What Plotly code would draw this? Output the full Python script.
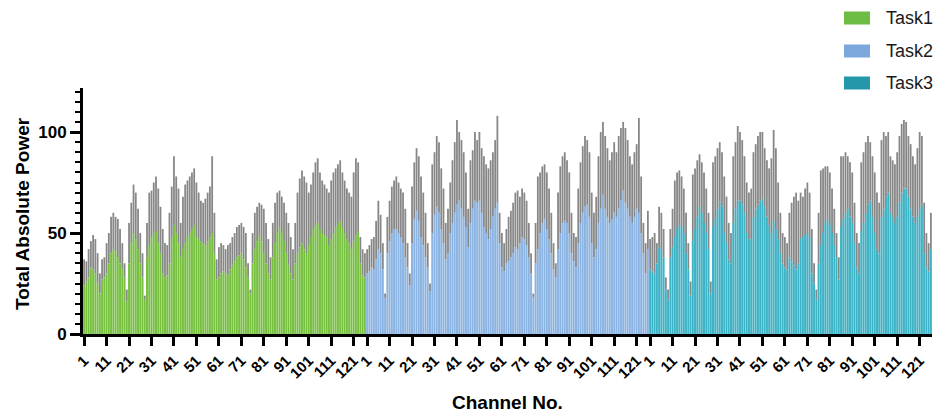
import plotly.graph_objects as go

# ---------------- data ----------------
task_names = ["Task1", "Task2", "Task3"]
n_channels = 126
tick_channels = [1, 11, 21, 31, 41, 51, 61, 71, 81, 91, 101, 111, 121]
tick_labels = ["1", "11", "21", "31", "41", "51", "61", "71", "81", "91", "101", "111", "121"]

# mean power per channel (bar height)
task1_mean = [
    24, 26, 28, 33, 32, 30, 25, 20, 27, 28,
    30, 35, 40, 42, 41, 38, 35, 32, 28, 16,
    35, 45, 50, 47, 42, 35, 28, 17, 38, 44,
    48, 50, 51, 45, 40, 30, 28, 29, 35, 48,
    54, 50, 45, 38, 42, 45, 48, 50, 52, 54,
    48, 47, 46, 45, 44, 46, 48, 50, 40, 27,
    28, 30, 31, 30, 29, 32, 34, 36, 38, 39,
    40, 37, 33, 28, 20, 35, 42, 46, 49, 46,
    40, 35, 30, 27, 38, 45, 50, 53, 50, 46,
    40, 34, 30, 27, 35, 40, 43, 45, 42, 40,
    44, 48, 52, 54, 55, 52, 50, 49, 48, 44,
    47, 50, 53, 55, 56, 53, 50, 47, 45, 42,
    46, 49, 51, 35, 29, 28,
]
# top of the error bar (mean + SD)
task1_upper = [
    37, 36, 42, 46, 49, 47, 40, 30, 37, 38,
    45, 50, 58, 60, 58, 57, 52, 45, 35, 22,
    55, 65, 74, 70, 62, 50, 40, 19, 55, 70,
    71, 75, 78, 72, 63, 52, 45, 44, 60, 73,
    88, 78, 72, 55, 68, 74, 76, 78, 80, 82,
    75, 70, 66, 65, 67, 70, 73, 88, 60, 37,
    43, 45, 44, 42, 44, 45, 48, 50, 53, 54,
    55, 53, 50, 35, 22, 50, 60, 63, 65, 64,
    62, 55, 47, 38, 55, 65, 70, 71, 68, 65,
    60, 55, 48, 42, 55, 70, 77, 81, 78, 75,
    70, 74, 80, 85, 87, 80, 76, 74, 72, 70,
    76, 80, 82, 84, 86, 80, 76, 72, 70, 68,
    80, 87, 85, 48, 42, 40,
]

task2_mean = [
    30, 31, 33, 32, 37, 42, 40, 32, 18, 40,
    46, 50, 52, 52, 50, 48, 45, 38, 33, 24,
    45, 57, 61, 56, 48, 44, 38, 33, 21, 50,
    59, 63, 60, 52, 45, 37, 40, 50, 55, 60,
    64, 66, 62, 58, 53, 43, 55, 62, 66, 65,
    66, 60, 53, 50, 47, 52, 58, 62, 65, 45,
    33, 31, 35, 36, 38, 40, 43, 42, 45, 48,
    47, 44, 38, 30, 18, 35, 42, 50, 55, 57,
    52, 47, 40, 32, 28, 42, 50, 55, 56, 55,
    50, 40, 36, 33, 45, 55, 60, 63, 64, 58,
    45, 38, 42, 55, 62, 69, 62, 58, 55, 57,
    60, 58, 62, 66, 71, 65, 62, 58, 55, 58,
    62, 60, 50, 40, 30, 42,
]
task2_upper = [
    42, 44, 47, 48, 56, 66, 59, 45, 20, 58,
    66, 73, 76, 78, 75, 72, 70, 62, 45, 30,
    73, 85, 92, 88, 78, 70, 60, 45, 25, 84,
    90, 98, 95, 82, 72, 55, 62, 75, 86, 95,
    106, 100, 96, 90, 80, 62, 86, 91, 100, 96,
    100, 92, 88, 84, 82, 86, 90, 96, 108, 60,
    50, 45, 52, 58, 61, 65, 70, 71, 68, 72,
    70, 66, 55, 40, 20, 55, 78, 80, 83, 84,
    80, 72, 60, 45, 35, 70, 83, 88, 90, 86,
    80, 60, 50, 48, 72, 85, 93, 98, 96, 90,
    70, 60, 68, 88, 100, 105, 98, 92, 86, 90,
    95, 90, 98, 102, 105, 102, 96, 88, 84, 90,
    94, 107, 78, 55, 45, 61,
]

task3_mean = [
    32, 31, 30, 35, 43, 42, 38, 22, 17, 38,
    43, 48, 52, 54, 53, 50, 40, 32, 19, 46,
    52, 58, 63, 60, 55, 50, 42, 20, 53, 57,
    62, 65, 63, 50, 45, 37, 35, 55, 62, 66,
    66, 64, 60, 50, 47, 47, 58, 62, 64, 66,
    67, 63, 58, 54, 50, 56, 52, 47, 40, 35,
    33, 32, 38, 36, 34, 32, 35, 47, 48, 49,
    50, 48, 30, 25, 17, 35, 44, 50, 55, 57,
    54, 50, 44, 38, 27, 53, 57, 60, 62, 58,
    55, 45, 33, 30, 51, 55, 60, 64, 66, 58,
    50, 42, 40, 58, 62, 68, 70, 60, 58, 55,
    58, 65, 70, 72, 72, 68, 62, 58, 55, 58,
    62, 64, 40, 33, 31, 42,
]
task3_upper = [
    47, 48, 50, 45, 63, 60, 52, 28, 22, 52,
    62, 76, 80, 81, 78, 72, 60, 45, 26, 79,
    82, 86, 89, 85, 80, 72, 60, 26, 85, 88,
    92, 95, 90, 78, 68, 55, 50, 88, 95, 103,
    100, 96, 88, 75, 70, 72, 90, 94, 98, 100,
    100, 92, 86, 82, 87, 101, 92, 75, 60, 50,
    48, 45, 60, 65, 68, 70, 66, 70, 68, 72,
    75, 70, 52, 35, 22, 60, 81, 82, 83, 83,
    80, 72, 62, 50, 38, 88, 88, 90, 88, 85,
    80, 65, 50, 45, 85, 90, 95, 98, 95, 88,
    80, 70, 65, 96, 100, 98, 100, 88, 86, 84,
    90, 98, 104, 106, 105, 98, 94, 88, 84, 92,
    100, 98, 65, 50, 45, 60,
]

means = [task1_mean, task2_mean, task3_mean]
uppers = [task1_upper, task2_upper, task3_upper]
for m, u in zip(means, uppers):
    assert len(m) == n_channels and len(u) == n_channels, (len(m), len(u))

# ---------------- styling ----------------
bar_colors = ["#78c042", "#8cb4e3", "#3eb3c6"]
legend_colors = ["#6dbd45", "#7ba7dc", "#2497aa"]
err_color = "#878787"
FONT = "Liberation Sans, Arial, Helvetica, sans-serif"

W, H = 934, 416
L, R, T, B = 83, 2, 88, 82
plot_w = W - L - R
plot_h = H - T - B

fig = go.Figure()
for g in range(3):
    x = [g * n_channels + i for i in range(n_channels)]
    err = [max(0, u - m) for m, u in zip(means[g], uppers[g])]
    fig.add_trace(go.Bar(
        x=x, y=means[g], name=task_names[g],
        marker=dict(color=bar_colors[g], line=dict(width=0)),
        error_y=dict(type="data", symmetric=False, array=err,
                     arrayminus=[0] * n_channels, color=err_color,
                     thickness=1.8, width=0),
        showlegend=False,
    ))

tickvals = [g * n_channels + (c - 1) for g in range(3) for c in tick_channels]
ticktext = tick_labels * 3

fig.update_layout(
    width=W, height=H,
    margin=dict(l=L, r=R, t=T, b=B, pad=0),
    paper_bgcolor="white", plot_bgcolor="white",
    bargap=0.1,
    font=dict(family=FONT, color="black"),
    showlegend=False,
)
fig.update_xaxes(
    range=[-0.5, 3 * n_channels - 0.5],
    tickmode="array", tickvals=tickvals, ticktext=ticktext,
    tickangle=-45, tickfont=dict(size=15, family=FONT, weight="bold", color="black"),
    ticks="outside", ticklen=9, tickwidth=2.5, tickcolor="black",
    showline=True, linecolor="black", linewidth=3,
    showgrid=False, zeroline=False, automargin=False,
)
fig.update_yaxes(
    range=[0, 121.8],
    tickmode="array", tickvals=[0, 50, 100], ticktext=["0", "50", "100"],
    tickfont=dict(size=17, family=FONT, weight="bold", color="black"),
    ticks="outside", ticklen=10, tickwidth=2.5, tickcolor="black",
    minor=dict(dtick=5, tick0=0, ticks="outside", ticklen=5, tickwidth=1.5, tickcolor="black"),
    showline=True, linecolor="black", linewidth=3,
    showgrid=False, zeroline=False, automargin=False,
)

def px_x(px):
    return (px - L) / plot_w

def px_y(py):
    return (H - B - py) / plot_h

annotations = [
    dict(text="<b>Total Absolute Power</b>", x=px_x(22), y=px_y(214), xref="paper", yref="paper",
         textangle=-90, showarrow=False, xanchor="center", yanchor="middle",
         font=dict(size=19, family=FONT, color="black")),
    dict(text="<b>Channel No.</b>", x=px_x(507), y=px_y(402), xref="paper", yref="paper",
         showarrow=False, xanchor="center", yanchor="middle",
         font=dict(size=19, family=FONT, color="black")),
]
shapes = []
legend_rows = [18, 51, 83]
for g in range(3):
    cy = legend_rows[g]
    shapes.append(dict(type="rect", xref="paper", yref="paper",
                       x0=px_x(844), x1=px_x(870), y0=px_y(cy - 6.5), y1=px_y(cy + 6.5),
                       fillcolor=legend_colors[g], line=dict(width=0)))
    annotations.append(dict(text=task_names[g], x=px_x(884), y=px_y(cy), xref="paper", yref="paper",
                            showarrow=False, xanchor="left", yanchor="middle",
                            font=dict(size=18, family=FONT, color="#1a1a1a")))

fig.update_layout(annotations=annotations, shapes=shapes)
fig.write_html("out.html")
